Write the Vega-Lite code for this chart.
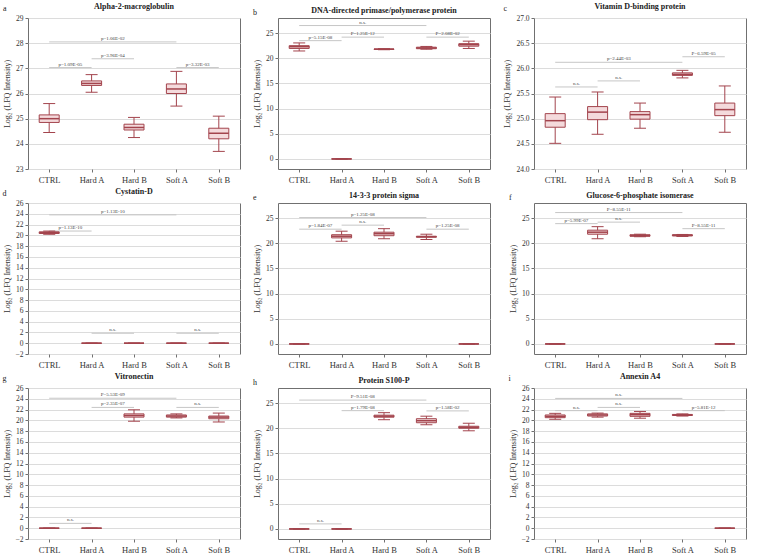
{
"$schema":"https://vega.github.io/schema/vega-lite/v6.json",
"padding":{"left":2,"right":2,"top":2,"bottom":1},
"columns":3,
"spacing":{"row":3,"column":12},
"datasets":{
"boxes":[
{"panel":"a","group":"CTRL","min":24.45,"q1":24.85,"median":25.0,"q3":25.15,"max":25.6},
{"panel":"a","group":"Hard A","min":26.05,"q1":26.32,"median":26.4,"q3":26.5,"max":26.75},
{"panel":"a","group":"Hard B","min":24.25,"q1":24.55,"median":24.65,"q3":24.78,"max":25.05},
{"panel":"a","group":"Soft A","min":25.5,"q1":26.0,"median":26.18,"q3":26.38,"max":26.88},
{"panel":"a","group":"Soft B","min":23.7,"q1":24.2,"median":24.42,"q3":24.62,"max":25.1},
{"panel":"b","group":"CTRL","min":21.45,"q1":21.95,"median":22.3,"q3":22.5,"max":23.05},
{"panel":"b","group":"Hard A","min":0,"q1":0,"median":0,"q3":0,"max":0},
{"panel":"b","group":"Hard B","min":21.7,"q1":21.75,"median":21.8,"q3":21.85,"max":21.9},
{"panel":"b","group":"Soft A","min":21.8,"q1":21.9,"median":22.05,"q3":22.2,"max":22.35},
{"panel":"b","group":"Soft B","min":21.95,"q1":22.4,"median":22.7,"q3":22.9,"max":23.4},
{"panel":"c","group":"CTRL","min":24.51,"q1":24.83,"median":24.96,"q3":25.1,"max":25.43},
{"panel":"c","group":"Hard A","min":24.69,"q1":24.98,"median":25.13,"q3":25.24,"max":25.53},
{"panel":"c","group":"Hard B","min":24.81,"q1":24.99,"median":25.08,"q3":25.14,"max":25.31},
{"panel":"c","group":"Soft A","min":25.81,"q1":25.86,"median":25.88,"q3":25.91,"max":25.96},
{"panel":"c","group":"Soft B","min":24.73,"q1":25.06,"median":25.18,"q3":25.31,"max":25.65},
{"panel":"d","group":"CTRL","min":20.2,"q1":20.35,"median":20.5,"q3":20.65,"max":20.8},
{"panel":"d","group":"Hard A","min":0,"q1":0,"median":0,"q3":0,"max":0},
{"panel":"d","group":"Hard B","min":0,"q1":0,"median":0,"q3":0,"max":0},
{"panel":"d","group":"Soft A","min":0,"q1":0,"median":0,"q3":0,"max":0},
{"panel":"d","group":"Soft B","min":0,"q1":0,"median":0,"q3":0,"max":0},
{"panel":"e","group":"CTRL","min":0,"q1":0,"median":0,"q3":0,"max":0},
{"panel":"e","group":"Hard A","min":20.4,"q1":21.07,"median":21.4,"q3":21.7,"max":22.4},
{"panel":"e","group":"Hard B","min":20.9,"q1":21.5,"median":21.9,"q3":22.2,"max":22.9},
{"panel":"e","group":"Soft A","min":20.75,"q1":21.2,"median":21.3,"q3":21.4,"max":21.8},
{"panel":"e","group":"Soft B","min":0,"q1":0,"median":0,"q3":0,"max":0},
{"panel":"f","group":"CTRL","min":0,"q1":0,"median":0,"q3":0,"max":0},
{"panel":"f","group":"Hard A","min":20.9,"q1":21.8,"median":22.2,"q3":22.6,"max":23.3},
{"panel":"f","group":"Hard B","min":21.3,"q1":21.4,"median":21.5,"q3":21.7,"max":21.8},
{"panel":"f","group":"Soft A","min":21.35,"q1":21.45,"median":21.6,"q3":21.7,"max":21.75},
{"panel":"f","group":"Soft B","min":0,"q1":0,"median":0,"q3":0,"max":0},
{"panel":"g","group":"CTRL","min":0,"q1":0,"median":0,"q3":0,"max":0},
{"panel":"g","group":"Hard A","min":0,"q1":0,"median":0,"q3":0,"max":0},
{"panel":"g","group":"Hard B","min":19.84,"q1":20.6,"median":20.9,"q3":21.2,"max":21.96},
{"panel":"g","group":"Soft A","min":20.45,"q1":20.6,"median":20.8,"q3":21.0,"max":21.2},
{"panel":"g","group":"Soft B","min":19.7,"q1":20.3,"median":20.6,"q3":20.8,"max":21.35},
{"panel":"h","group":"CTRL","min":0,"q1":0,"median":0,"q3":0,"max":0},
{"panel":"h","group":"Hard A","min":0,"q1":0,"median":0,"q3":0,"max":0},
{"panel":"h","group":"Hard B","min":21.7,"q1":22.2,"median":22.4,"q3":22.6,"max":23.1},
{"panel":"h","group":"Soft A","min":20.7,"q1":21.1,"median":21.5,"q3":21.9,"max":22.4},
{"panel":"h","group":"Soft B","min":19.5,"q1":20.0,"median":20.2,"q3":20.4,"max":21.0},
{"panel":"i","group":"CTRL","min":20.2,"q1":20.5,"median":20.75,"q3":21.0,"max":21.3},
{"panel":"i","group":"Hard A","min":20.6,"q1":20.8,"median":21.0,"q3":21.2,"max":21.35},
{"panel":"i","group":"Hard B","min":20.4,"q1":20.75,"median":21.05,"q3":21.3,"max":21.65},
{"panel":"i","group":"Soft A","min":20.8,"q1":20.9,"median":21.0,"q3":21.1,"max":21.2},
{"panel":"i","group":"Soft B","min":0,"q1":0,"median":0,"q3":0,"max":0}
],
"sigs":[
{"panel":"a","g1":"CTRL","g2":"Soft A","y":28.05,"label":"p=1.06E-02"},
{"panel":"a","g1":"Hard A","g2":"Hard B","y":27.38,"label":"p=3.96E-04"},
{"panel":"a","g1":"CTRL","g2":"Hard A","y":27.03,"label":"p=1.09E-05"},
{"panel":"a","g1":"Soft A","g2":"Soft B","y":27.03,"label":"p=3.32E-03"},
{"panel":"b","g1":"CTRL","g2":"Soft A","y":26.5,"label":"n.s."},
{"panel":"b","g1":"CTRL","g2":"Hard A","y":23.5,"label":"p=5.15E-08"},
{"panel":"b","g1":"Hard A","g2":"Hard B","y":24.2,"label":"P=1.25E-12"},
{"panel":"b","g1":"Soft A","g2":"Soft B","y":24.2,"label":"P=2.08E-02"},
{"panel":"c","g1":"CTRL","g2":"Soft A","y":26.12,"label":"p=2.44E-03"},
{"panel":"c","g1":"Soft A","g2":"Soft B","y":26.23,"label":"P=6.59E-05"},
{"panel":"c","g1":"CTRL","g2":"Hard A","y":25.63,"label":"n.s."},
{"panel":"c","g1":"Hard A","g2":"Hard B","y":25.75,"label":"n.s."},
{"panel":"d","g1":"CTRL","g2":"Soft A","y":23.8,"label":"p=1.13E-10"},
{"panel":"d","g1":"CTRL","g2":"Hard A","y":20.8,"label":"p=1.13E-10"},
{"panel":"d","g1":"Hard A","g2":"Hard B","y":1.85,"label":"n.s."},
{"panel":"d","g1":"Soft A","g2":"Soft B","y":1.85,"label":"n.s."},
{"panel":"e","g1":"CTRL","g2":"Soft A","y":25.1,"label":"p=1.25E-08"},
{"panel":"e","g1":"CTRL","g2":"Hard A","y":22.8,"label":"p=1.84E-07"},
{"panel":"e","g1":"Hard A","g2":"Hard B","y":23.6,"label":"n.s."},
{"panel":"e","g1":"Soft A","g2":"Soft B","y":22.8,"label":"p=1.25E-08"},
{"panel":"f","g1":"CTRL","g2":"Soft A","y":26.1,"label":"P=8.55E-11"},
{"panel":"f","g1":"CTRL","g2":"Hard A","y":23.9,"label":"p=5.99E-07"},
{"panel":"f","g1":"Hard A","g2":"Hard B","y":24.2,"label":"n.s."},
{"panel":"f","g1":"Soft A","g2":"Soft B","y":22.9,"label":"P=8.55E-11"},
{"panel":"g","g1":"CTRL","g2":"Soft A","y":24.1,"label":"P=5.53E-09"},
{"panel":"g","g1":"Hard A","g2":"Hard B","y":22.4,"label":"p=2.35E-07"},
{"panel":"g","g1":"Soft A","g2":"Soft B","y":22.4,"label":"n.s."},
{"panel":"g","g1":"CTRL","g2":"Hard A","y":0.9,"label":"n.s."},
{"panel":"h","g1":"CTRL","g2":"Soft A","y":25.6,"label":"P=9.51E-08"},
{"panel":"h","g1":"Hard A","g2":"Hard B","y":23.5,"label":"p=1.79E-08"},
{"panel":"h","g1":"Soft A","g2":"Soft B","y":23.45,"label":"p=1.58E-02"},
{"panel":"h","g1":"CTRL","g2":"Hard A","y":1.0,"label":"n.s."},
{"panel":"i","g1":"CTRL","g2":"Soft A","y":24.07,"label":"n.s."},
{"panel":"i","g1":"CTRL","g2":"Hard A","y":21.8,"label":"n.s."},
{"panel":"i","g1":"Hard A","g2":"Hard B","y":22.4,"label":"n.s."},
{"panel":"i","g1":"Soft A","g2":"Soft B","y":21.8,"label":"p=5.81E-12"}
]
},
"concat":[
{"title":{"text":"a","anchor":"start","frame":"bounds","offset":-10,"fontSize":8,"fontWeight":"normal"},
"vconcat":[{"title":"Alpha-2-macroglobulin","width":212,"height":151,
"layer":[
{"layer":[
{"data":{"name":"sigs"},"transform":[{"filter":"datum.panel=='a'"}],"mark":{"type":"rule","color":"#c6c6c6"},"encoding":{"x":{"field":"g1","type":"nominal","scale":{"type":"point","domain":["CTRL","Hard A","Hard B","Soft A","Soft B"],"padding":0.5},"axis":{"title":null,"labelAngle":0}},"x2":{"field":"g2"},"y":{"field":"y","type":"quantitative","scale":{"domain":[23,29],"nice":false,"zero":false},"axis":{"title":"Log₂ (LFQ Intensity)","values":[23,24,25,26,27,28,29],"tickCount":7}}}},
{"data":{"name":"boxes"},"transform":[{"filter":"datum.panel=='a'"}],"mark":{"type":"rule","color":"#a3444d"},"encoding":{"x":{"field":"group","type":"nominal"},"y":{"field":"min","type":"quantitative","axis":{"title":"Log₂ (LFQ Intensity)","values":[23,24,25,26,27,28,29],"tickCount":7}},"y2":{"field":"max"}}},
{"data":{"name":"boxes"},"transform":[{"filter":"datum.panel=='a'"}],"mark":{"type":"bar","size":20,"fill":"#f4dadc","stroke":"#a3444d","strokeWidth":1},"encoding":{"x":{"field":"group","type":"nominal"},"y":{"field":"q1","type":"quantitative","axis":{"title":"Log₂ (LFQ Intensity)","values":[23,24,25,26,27,28,29],"tickCount":7}},"y2":{"field":"q3"}}},
{"data":{"name":"boxes"},"transform":[{"filter":"datum.panel=='a'"}],"mark":{"type":"tick","size":20,"thickness":1.5,"color":"#a3444d","opacity":1},"encoding":{"x":{"field":"group","type":"nominal"},"y":{"field":"median","type":"quantitative","axis":{"title":"Log₂ (LFQ Intensity)","values":[23,24,25,26,27,28,29],"tickCount":7}}}},
{"data":{"name":"boxes"},"transform":[{"filter":"datum.panel=='a'"}],"mark":{"type":"tick","size":12,"thickness":1,"color":"#a3444d","opacity":1},"encoding":{"x":{"field":"group","type":"nominal"},"y":{"field":"min","type":"quantitative","axis":{"title":"Log₂ (LFQ Intensity)","values":[23,24,25,26,27,28,29],"tickCount":7}}}},
{"data":{"name":"boxes"},"transform":[{"filter":"datum.panel=='a'"}],"mark":{"type":"tick","size":12,"thickness":1,"color":"#a3444d","opacity":1},"encoding":{"x":{"field":"group","type":"nominal"},"y":{"field":"max","type":"quantitative","axis":{"title":"Log₂ (LFQ Intensity)","values":[23,24,25,26,27,28,29],"tickCount":7}}}}
]},
{"data":{"name":"sigs"},"transform":[{"filter":"datum.panel=='a'"},{"calculate":"(indexof(['CTRL','Hard A','Hard B','Soft A','Soft B'],datum.g1)+indexof(['CTRL','Hard A','Hard B','Soft A','Soft B'],datum.g2))/2","as":"mid"}],"mark":{"type":"text","fontSize":5,"baseline":"bottom","dy":-1,"color":"#444"},"encoding":{"x":{"field":"mid","type":"quantitative","scale":{"domain":[-0.5,4.5],"nice":false,"zero":false},"axis":null},"y":{"field":"y","type":"quantitative","axis":{"title":"Log₂ (LFQ Intensity)","values":[23,24,25,26,27,28,29],"tickCount":7}},"text":{"field":"label"}}}
],
"resolve":{"scale":{"x":"independent"}}}]},

{"title":{"text":"b","anchor":"start","frame":"bounds","offset":-10,"fontSize":8,"fontWeight":"normal"},
"vconcat":[{"title":"DNA-directed primase/polymerase protein","width":212,"height":151,
"layer":[
{"layer":[
{"data":{"name":"sigs"},"transform":[{"filter":"datum.panel=='b'"}],"mark":{"type":"rule","color":"#c6c6c6"},"encoding":{"x":{"field":"g1","type":"nominal","scale":{"type":"point","domain":["CTRL","Hard A","Hard B","Soft A","Soft B"],"padding":0.5},"axis":{"title":null,"labelAngle":0}},"x2":{"field":"g2"},"y":{"field":"y","type":"quantitative","scale":{"domain":[-2,28],"nice":false,"zero":false},"axis":{"title":"Log₂ (LFQ Intensity)","values":[0,5,10,15,20,25],"tickCount":6}}}},
{"data":{"name":"boxes"},"transform":[{"filter":"datum.panel=='b'"}],"mark":{"type":"rule","color":"#a3444d"},"encoding":{"x":{"field":"group","type":"nominal"},"y":{"field":"min","type":"quantitative","axis":{"title":"Log₂ (LFQ Intensity)","values":[0,5,10,15,20,25],"tickCount":6}},"y2":{"field":"max"}}},
{"data":{"name":"boxes"},"transform":[{"filter":"datum.panel=='b'"}],"mark":{"type":"bar","size":20,"fill":"#f4dadc","stroke":"#a3444d","strokeWidth":1},"encoding":{"x":{"field":"group","type":"nominal"},"y":{"field":"q1","type":"quantitative","axis":{"title":"Log₂ (LFQ Intensity)","values":[0,5,10,15,20,25],"tickCount":6}},"y2":{"field":"q3"}}},
{"data":{"name":"boxes"},"transform":[{"filter":"datum.panel=='b'"}],"mark":{"type":"tick","size":20,"thickness":1.5,"color":"#a3444d","opacity":1},"encoding":{"x":{"field":"group","type":"nominal"},"y":{"field":"median","type":"quantitative","axis":{"title":"Log₂ (LFQ Intensity)","values":[0,5,10,15,20,25],"tickCount":6}}}},
{"data":{"name":"boxes"},"transform":[{"filter":"datum.panel=='b'"}],"mark":{"type":"tick","size":12,"thickness":1,"color":"#a3444d","opacity":1},"encoding":{"x":{"field":"group","type":"nominal"},"y":{"field":"min","type":"quantitative","axis":{"title":"Log₂ (LFQ Intensity)","values":[0,5,10,15,20,25],"tickCount":6}}}},
{"data":{"name":"boxes"},"transform":[{"filter":"datum.panel=='b'"}],"mark":{"type":"tick","size":12,"thickness":1,"color":"#a3444d","opacity":1},"encoding":{"x":{"field":"group","type":"nominal"},"y":{"field":"max","type":"quantitative","axis":{"title":"Log₂ (LFQ Intensity)","values":[0,5,10,15,20,25],"tickCount":6}}}}
]},
{"data":{"name":"sigs"},"transform":[{"filter":"datum.panel=='b'"},{"calculate":"(indexof(['CTRL','Hard A','Hard B','Soft A','Soft B'],datum.g1)+indexof(['CTRL','Hard A','Hard B','Soft A','Soft B'],datum.g2))/2","as":"mid"}],"mark":{"type":"text","fontSize":5,"baseline":"bottom","dy":-1,"color":"#444"},"encoding":{"x":{"field":"mid","type":"quantitative","scale":{"domain":[-0.5,4.5],"nice":false,"zero":false},"axis":null},"y":{"field":"y","type":"quantitative","axis":{"title":"Log₂ (LFQ Intensity)","values":[0,5,10,15,20,25],"tickCount":6}},"text":{"field":"label"}}}
],
"resolve":{"scale":{"x":"independent"}}}]},

{"title":{"text":"c","anchor":"start","frame":"bounds","offset":-10,"fontSize":8,"fontWeight":"normal"},
"vconcat":[{"title":"Vitamin D-binding protein","width":212,"height":151,
"layer":[
{"layer":[
{"data":{"name":"sigs"},"transform":[{"filter":"datum.panel=='c'"}],"mark":{"type":"rule","color":"#c6c6c6"},"encoding":{"x":{"field":"g1","type":"nominal","scale":{"type":"point","domain":["CTRL","Hard A","Hard B","Soft A","Soft B"],"padding":0.5},"axis":{"title":null,"labelAngle":0}},"x2":{"field":"g2"},"y":{"field":"y","type":"quantitative","scale":{"domain":[24,27],"nice":false,"zero":false},"axis":{"title":"Log₂ (LFQ Intensity)","values":[24,24.5,25,25.5,26,26.5,27],"tickCount":7,"format":".1f"}}}},
{"data":{"name":"boxes"},"transform":[{"filter":"datum.panel=='c'"}],"mark":{"type":"rule","color":"#a3444d"},"encoding":{"x":{"field":"group","type":"nominal"},"y":{"field":"min","type":"quantitative","axis":{"title":"Log₂ (LFQ Intensity)","values":[24,24.5,25,25.5,26,26.5,27],"tickCount":7,"format":".1f"}},"y2":{"field":"max"}}},
{"data":{"name":"boxes"},"transform":[{"filter":"datum.panel=='c'"}],"mark":{"type":"bar","size":20,"fill":"#f4dadc","stroke":"#a3444d","strokeWidth":1},"encoding":{"x":{"field":"group","type":"nominal"},"y":{"field":"q1","type":"quantitative","axis":{"title":"Log₂ (LFQ Intensity)","values":[24,24.5,25,25.5,26,26.5,27],"tickCount":7,"format":".1f"}},"y2":{"field":"q3"}}},
{"data":{"name":"boxes"},"transform":[{"filter":"datum.panel=='c'"}],"mark":{"type":"tick","size":20,"thickness":1.5,"color":"#a3444d","opacity":1},"encoding":{"x":{"field":"group","type":"nominal"},"y":{"field":"median","type":"quantitative","axis":{"title":"Log₂ (LFQ Intensity)","values":[24,24.5,25,25.5,26,26.5,27],"tickCount":7,"format":".1f"}}}},
{"data":{"name":"boxes"},"transform":[{"filter":"datum.panel=='c'"}],"mark":{"type":"tick","size":12,"thickness":1,"color":"#a3444d","opacity":1},"encoding":{"x":{"field":"group","type":"nominal"},"y":{"field":"min","type":"quantitative","axis":{"title":"Log₂ (LFQ Intensity)","values":[24,24.5,25,25.5,26,26.5,27],"tickCount":7,"format":".1f"}}}},
{"data":{"name":"boxes"},"transform":[{"filter":"datum.panel=='c'"}],"mark":{"type":"tick","size":12,"thickness":1,"color":"#a3444d","opacity":1},"encoding":{"x":{"field":"group","type":"nominal"},"y":{"field":"max","type":"quantitative","axis":{"title":"Log₂ (LFQ Intensity)","values":[24,24.5,25,25.5,26,26.5,27],"tickCount":7,"format":".1f"}}}}
]},
{"data":{"name":"sigs"},"transform":[{"filter":"datum.panel=='c'"},{"calculate":"(indexof(['CTRL','Hard A','Hard B','Soft A','Soft B'],datum.g1)+indexof(['CTRL','Hard A','Hard B','Soft A','Soft B'],datum.g2))/2","as":"mid"}],"mark":{"type":"text","fontSize":5,"baseline":"bottom","dy":-1,"color":"#444"},"encoding":{"x":{"field":"mid","type":"quantitative","scale":{"domain":[-0.5,4.5],"nice":false,"zero":false},"axis":null},"y":{"field":"y","type":"quantitative","axis":{"title":"Log₂ (LFQ Intensity)","values":[24,24.5,25,25.5,26,26.5,27],"tickCount":7,"format":".1f"}},"text":{"field":"label"}}}
],
"resolve":{"scale":{"x":"independent"}}}]},

{"title":{"text":"d","anchor":"start","frame":"bounds","offset":-10,"fontSize":8,"fontWeight":"normal"},
"vconcat":[{"title":"Cystatin-D","width":212,"height":151,
"layer":[
{"layer":[
{"data":{"name":"sigs"},"transform":[{"filter":"datum.panel=='d'"}],"mark":{"type":"rule","color":"#c6c6c6"},"encoding":{"x":{"field":"g1","type":"nominal","scale":{"type":"point","domain":["CTRL","Hard A","Hard B","Soft A","Soft B"],"padding":0.5},"axis":{"title":null,"labelAngle":0}},"x2":{"field":"g2"},"y":{"field":"y","type":"quantitative","scale":{"domain":[-2,26],"nice":false,"zero":false},"axis":{"title":"Log₂ (LFQ Intensity)","values":[-2,0,2,4,6,8,10,12,14,16,18,20,22,24,26],"tickCount":15}}}},
{"data":{"name":"boxes"},"transform":[{"filter":"datum.panel=='d'"}],"mark":{"type":"rule","color":"#a3444d"},"encoding":{"x":{"field":"group","type":"nominal"},"y":{"field":"min","type":"quantitative","axis":{"title":"Log₂ (LFQ Intensity)","values":[-2,0,2,4,6,8,10,12,14,16,18,20,22,24,26],"tickCount":15}},"y2":{"field":"max"}}},
{"data":{"name":"boxes"},"transform":[{"filter":"datum.panel=='d'"}],"mark":{"type":"bar","size":20,"fill":"#f4dadc","stroke":"#a3444d","strokeWidth":1},"encoding":{"x":{"field":"group","type":"nominal"},"y":{"field":"q1","type":"quantitative","axis":{"title":"Log₂ (LFQ Intensity)","values":[-2,0,2,4,6,8,10,12,14,16,18,20,22,24,26],"tickCount":15}},"y2":{"field":"q3"}}},
{"data":{"name":"boxes"},"transform":[{"filter":"datum.panel=='d'"}],"mark":{"type":"tick","size":20,"thickness":1.5,"color":"#a3444d","opacity":1},"encoding":{"x":{"field":"group","type":"nominal"},"y":{"field":"median","type":"quantitative","axis":{"title":"Log₂ (LFQ Intensity)","values":[-2,0,2,4,6,8,10,12,14,16,18,20,22,24,26],"tickCount":15}}}},
{"data":{"name":"boxes"},"transform":[{"filter":"datum.panel=='d'"}],"mark":{"type":"tick","size":12,"thickness":1,"color":"#a3444d","opacity":1},"encoding":{"x":{"field":"group","type":"nominal"},"y":{"field":"min","type":"quantitative","axis":{"title":"Log₂ (LFQ Intensity)","values":[-2,0,2,4,6,8,10,12,14,16,18,20,22,24,26],"tickCount":15}}}},
{"data":{"name":"boxes"},"transform":[{"filter":"datum.panel=='d'"}],"mark":{"type":"tick","size":12,"thickness":1,"color":"#a3444d","opacity":1},"encoding":{"x":{"field":"group","type":"nominal"},"y":{"field":"max","type":"quantitative","axis":{"title":"Log₂ (LFQ Intensity)","values":[-2,0,2,4,6,8,10,12,14,16,18,20,22,24,26],"tickCount":15}}}}
]},
{"data":{"name":"sigs"},"transform":[{"filter":"datum.panel=='d'"},{"calculate":"(indexof(['CTRL','Hard A','Hard B','Soft A','Soft B'],datum.g1)+indexof(['CTRL','Hard A','Hard B','Soft A','Soft B'],datum.g2))/2","as":"mid"}],"mark":{"type":"text","fontSize":5,"baseline":"bottom","dy":-1,"color":"#444"},"encoding":{"x":{"field":"mid","type":"quantitative","scale":{"domain":[-0.5,4.5],"nice":false,"zero":false},"axis":null},"y":{"field":"y","type":"quantitative","axis":{"title":"Log₂ (LFQ Intensity)","values":[-2,0,2,4,6,8,10,12,14,16,18,20,22,24,26],"tickCount":15}},"text":{"field":"label"}}}
],
"resolve":{"scale":{"x":"independent"}}}]},

{"title":{"text":"e","anchor":"start","frame":"bounds","offset":-10,"fontSize":8,"fontWeight":"normal"},
"vconcat":[{"title":"14-3-3 protein sigma","width":212,"height":151,
"layer":[
{"layer":[
{"data":{"name":"sigs"},"transform":[{"filter":"datum.panel=='e'"}],"mark":{"type":"rule","color":"#c6c6c6"},"encoding":{"x":{"field":"g1","type":"nominal","scale":{"type":"point","domain":["CTRL","Hard A","Hard B","Soft A","Soft B"],"padding":0.5},"axis":{"title":null,"labelAngle":0}},"x2":{"field":"g2"},"y":{"field":"y","type":"quantitative","scale":{"domain":[-2,28],"nice":false,"zero":false},"axis":{"title":"Log₂ (LFQ Intensity)","values":[0,5,10,15,20,25],"tickCount":6}}}},
{"data":{"name":"boxes"},"transform":[{"filter":"datum.panel=='e'"}],"mark":{"type":"rule","color":"#a3444d"},"encoding":{"x":{"field":"group","type":"nominal"},"y":{"field":"min","type":"quantitative","axis":{"title":"Log₂ (LFQ Intensity)","values":[0,5,10,15,20,25],"tickCount":6}},"y2":{"field":"max"}}},
{"data":{"name":"boxes"},"transform":[{"filter":"datum.panel=='e'"}],"mark":{"type":"bar","size":20,"fill":"#f4dadc","stroke":"#a3444d","strokeWidth":1},"encoding":{"x":{"field":"group","type":"nominal"},"y":{"field":"q1","type":"quantitative","axis":{"title":"Log₂ (LFQ Intensity)","values":[0,5,10,15,20,25],"tickCount":6}},"y2":{"field":"q3"}}},
{"data":{"name":"boxes"},"transform":[{"filter":"datum.panel=='e'"}],"mark":{"type":"tick","size":20,"thickness":1.5,"color":"#a3444d","opacity":1},"encoding":{"x":{"field":"group","type":"nominal"},"y":{"field":"median","type":"quantitative","axis":{"title":"Log₂ (LFQ Intensity)","values":[0,5,10,15,20,25],"tickCount":6}}}},
{"data":{"name":"boxes"},"transform":[{"filter":"datum.panel=='e'"}],"mark":{"type":"tick","size":12,"thickness":1,"color":"#a3444d","opacity":1},"encoding":{"x":{"field":"group","type":"nominal"},"y":{"field":"min","type":"quantitative","axis":{"title":"Log₂ (LFQ Intensity)","values":[0,5,10,15,20,25],"tickCount":6}}}},
{"data":{"name":"boxes"},"transform":[{"filter":"datum.panel=='e'"}],"mark":{"type":"tick","size":12,"thickness":1,"color":"#a3444d","opacity":1},"encoding":{"x":{"field":"group","type":"nominal"},"y":{"field":"max","type":"quantitative","axis":{"title":"Log₂ (LFQ Intensity)","values":[0,5,10,15,20,25],"tickCount":6}}}}
]},
{"data":{"name":"sigs"},"transform":[{"filter":"datum.panel=='e'"},{"calculate":"(indexof(['CTRL','Hard A','Hard B','Soft A','Soft B'],datum.g1)+indexof(['CTRL','Hard A','Hard B','Soft A','Soft B'],datum.g2))/2","as":"mid"}],"mark":{"type":"text","fontSize":5,"baseline":"bottom","dy":-1,"color":"#444"},"encoding":{"x":{"field":"mid","type":"quantitative","scale":{"domain":[-0.5,4.5],"nice":false,"zero":false},"axis":null},"y":{"field":"y","type":"quantitative","axis":{"title":"Log₂ (LFQ Intensity)","values":[0,5,10,15,20,25],"tickCount":6}},"text":{"field":"label"}}}
],
"resolve":{"scale":{"x":"independent"}}}]},

{"title":{"text":"f","anchor":"start","frame":"bounds","offset":-10,"fontSize":8,"fontWeight":"normal"},
"vconcat":[{"title":"Glucose-6-phosphate isomerase","width":212,"height":151,
"layer":[
{"layer":[
{"data":{"name":"sigs"},"transform":[{"filter":"datum.panel=='f'"}],"mark":{"type":"rule","color":"#c6c6c6"},"encoding":{"x":{"field":"g1","type":"nominal","scale":{"type":"point","domain":["CTRL","Hard A","Hard B","Soft A","Soft B"],"padding":0.5},"axis":{"title":null,"labelAngle":0}},"x2":{"field":"g2"},"y":{"field":"y","type":"quantitative","scale":{"domain":[-2,28],"nice":false,"zero":false},"axis":{"title":"Log₂ (LFQ Intensity)","values":[0,5,10,15,20,25],"tickCount":6}}}},
{"data":{"name":"boxes"},"transform":[{"filter":"datum.panel=='f'"}],"mark":{"type":"rule","color":"#a3444d"},"encoding":{"x":{"field":"group","type":"nominal"},"y":{"field":"min","type":"quantitative","axis":{"title":"Log₂ (LFQ Intensity)","values":[0,5,10,15,20,25],"tickCount":6}},"y2":{"field":"max"}}},
{"data":{"name":"boxes"},"transform":[{"filter":"datum.panel=='f'"}],"mark":{"type":"bar","size":20,"fill":"#f4dadc","stroke":"#a3444d","strokeWidth":1},"encoding":{"x":{"field":"group","type":"nominal"},"y":{"field":"q1","type":"quantitative","axis":{"title":"Log₂ (LFQ Intensity)","values":[0,5,10,15,20,25],"tickCount":6}},"y2":{"field":"q3"}}},
{"data":{"name":"boxes"},"transform":[{"filter":"datum.panel=='f'"}],"mark":{"type":"tick","size":20,"thickness":1.5,"color":"#a3444d","opacity":1},"encoding":{"x":{"field":"group","type":"nominal"},"y":{"field":"median","type":"quantitative","axis":{"title":"Log₂ (LFQ Intensity)","values":[0,5,10,15,20,25],"tickCount":6}}}},
{"data":{"name":"boxes"},"transform":[{"filter":"datum.panel=='f'"}],"mark":{"type":"tick","size":12,"thickness":1,"color":"#a3444d","opacity":1},"encoding":{"x":{"field":"group","type":"nominal"},"y":{"field":"min","type":"quantitative","axis":{"title":"Log₂ (LFQ Intensity)","values":[0,5,10,15,20,25],"tickCount":6}}}},
{"data":{"name":"boxes"},"transform":[{"filter":"datum.panel=='f'"}],"mark":{"type":"tick","size":12,"thickness":1,"color":"#a3444d","opacity":1},"encoding":{"x":{"field":"group","type":"nominal"},"y":{"field":"max","type":"quantitative","axis":{"title":"Log₂ (LFQ Intensity)","values":[0,5,10,15,20,25],"tickCount":6}}}}
]},
{"data":{"name":"sigs"},"transform":[{"filter":"datum.panel=='f'"},{"calculate":"(indexof(['CTRL','Hard A','Hard B','Soft A','Soft B'],datum.g1)+indexof(['CTRL','Hard A','Hard B','Soft A','Soft B'],datum.g2))/2","as":"mid"}],"mark":{"type":"text","fontSize":5,"baseline":"bottom","dy":-1,"color":"#444"},"encoding":{"x":{"field":"mid","type":"quantitative","scale":{"domain":[-0.5,4.5],"nice":false,"zero":false},"axis":null},"y":{"field":"y","type":"quantitative","axis":{"title":"Log₂ (LFQ Intensity)","values":[0,5,10,15,20,25],"tickCount":6}},"text":{"field":"label"}}}
],
"resolve":{"scale":{"x":"independent"}}}]},

{"title":{"text":"g","anchor":"start","frame":"bounds","offset":-10,"fontSize":8,"fontWeight":"normal"},
"vconcat":[{"title":"Vitronectin","width":212,"height":151,
"layer":[
{"layer":[
{"data":{"name":"sigs"},"transform":[{"filter":"datum.panel=='g'"}],"mark":{"type":"rule","color":"#c6c6c6"},"encoding":{"x":{"field":"g1","type":"nominal","scale":{"type":"point","domain":["CTRL","Hard A","Hard B","Soft A","Soft B"],"padding":0.5},"axis":{"title":null,"labelAngle":0}},"x2":{"field":"g2"},"y":{"field":"y","type":"quantitative","scale":{"domain":[-2,26],"nice":false,"zero":false},"axis":{"title":"Log₂ (LFQ Intensity)","values":[-2,0,2,4,6,8,10,12,14,16,18,20,22,24,26],"tickCount":15}}}},
{"data":{"name":"boxes"},"transform":[{"filter":"datum.panel=='g'"}],"mark":{"type":"rule","color":"#a3444d"},"encoding":{"x":{"field":"group","type":"nominal"},"y":{"field":"min","type":"quantitative","axis":{"title":"Log₂ (LFQ Intensity)","values":[-2,0,2,4,6,8,10,12,14,16,18,20,22,24,26],"tickCount":15}},"y2":{"field":"max"}}},
{"data":{"name":"boxes"},"transform":[{"filter":"datum.panel=='g'"}],"mark":{"type":"bar","size":20,"fill":"#f4dadc","stroke":"#a3444d","strokeWidth":1},"encoding":{"x":{"field":"group","type":"nominal"},"y":{"field":"q1","type":"quantitative","axis":{"title":"Log₂ (LFQ Intensity)","values":[-2,0,2,4,6,8,10,12,14,16,18,20,22,24,26],"tickCount":15}},"y2":{"field":"q3"}}},
{"data":{"name":"boxes"},"transform":[{"filter":"datum.panel=='g'"}],"mark":{"type":"tick","size":20,"thickness":1.5,"color":"#a3444d","opacity":1},"encoding":{"x":{"field":"group","type":"nominal"},"y":{"field":"median","type":"quantitative","axis":{"title":"Log₂ (LFQ Intensity)","values":[-2,0,2,4,6,8,10,12,14,16,18,20,22,24,26],"tickCount":15}}}},
{"data":{"name":"boxes"},"transform":[{"filter":"datum.panel=='g'"}],"mark":{"type":"tick","size":12,"thickness":1,"color":"#a3444d","opacity":1},"encoding":{"x":{"field":"group","type":"nominal"},"y":{"field":"min","type":"quantitative","axis":{"title":"Log₂ (LFQ Intensity)","values":[-2,0,2,4,6,8,10,12,14,16,18,20,22,24,26],"tickCount":15}}}},
{"data":{"name":"boxes"},"transform":[{"filter":"datum.panel=='g'"}],"mark":{"type":"tick","size":12,"thickness":1,"color":"#a3444d","opacity":1},"encoding":{"x":{"field":"group","type":"nominal"},"y":{"field":"max","type":"quantitative","axis":{"title":"Log₂ (LFQ Intensity)","values":[-2,0,2,4,6,8,10,12,14,16,18,20,22,24,26],"tickCount":15}}}}
]},
{"data":{"name":"sigs"},"transform":[{"filter":"datum.panel=='g'"},{"calculate":"(indexof(['CTRL','Hard A','Hard B','Soft A','Soft B'],datum.g1)+indexof(['CTRL','Hard A','Hard B','Soft A','Soft B'],datum.g2))/2","as":"mid"}],"mark":{"type":"text","fontSize":5,"baseline":"bottom","dy":-1,"color":"#444"},"encoding":{"x":{"field":"mid","type":"quantitative","scale":{"domain":[-0.5,4.5],"nice":false,"zero":false},"axis":null},"y":{"field":"y","type":"quantitative","axis":{"title":"Log₂ (LFQ Intensity)","values":[-2,0,2,4,6,8,10,12,14,16,18,20,22,24,26],"tickCount":15}},"text":{"field":"label"}}}
],
"resolve":{"scale":{"x":"independent"}}}]},

{"title":{"text":"h","anchor":"start","frame":"bounds","offset":-10,"fontSize":8,"fontWeight":"normal"},
"vconcat":[{"title":"Protein S100-P","width":212,"height":151,
"layer":[
{"layer":[
{"data":{"name":"sigs"},"transform":[{"filter":"datum.panel=='h'"}],"mark":{"type":"rule","color":"#c6c6c6"},"encoding":{"x":{"field":"g1","type":"nominal","scale":{"type":"point","domain":["CTRL","Hard A","Hard B","Soft A","Soft B"],"padding":0.5},"axis":{"title":null,"labelAngle":0}},"x2":{"field":"g2"},"y":{"field":"y","type":"quantitative","scale":{"domain":[-2,28],"nice":false,"zero":false},"axis":{"title":"Log₂ (LFQ Intensity)","values":[0,5,10,15,20,25],"tickCount":6}}}},
{"data":{"name":"boxes"},"transform":[{"filter":"datum.panel=='h'"}],"mark":{"type":"rule","color":"#a3444d"},"encoding":{"x":{"field":"group","type":"nominal"},"y":{"field":"min","type":"quantitative","axis":{"title":"Log₂ (LFQ Intensity)","values":[0,5,10,15,20,25],"tickCount":6}},"y2":{"field":"max"}}},
{"data":{"name":"boxes"},"transform":[{"filter":"datum.panel=='h'"}],"mark":{"type":"bar","size":20,"fill":"#f4dadc","stroke":"#a3444d","strokeWidth":1},"encoding":{"x":{"field":"group","type":"nominal"},"y":{"field":"q1","type":"quantitative","axis":{"title":"Log₂ (LFQ Intensity)","values":[0,5,10,15,20,25],"tickCount":6}},"y2":{"field":"q3"}}},
{"data":{"name":"boxes"},"transform":[{"filter":"datum.panel=='h'"}],"mark":{"type":"tick","size":20,"thickness":1.5,"color":"#a3444d","opacity":1},"encoding":{"x":{"field":"group","type":"nominal"},"y":{"field":"median","type":"quantitative","axis":{"title":"Log₂ (LFQ Intensity)","values":[0,5,10,15,20,25],"tickCount":6}}}},
{"data":{"name":"boxes"},"transform":[{"filter":"datum.panel=='h'"}],"mark":{"type":"tick","size":12,"thickness":1,"color":"#a3444d","opacity":1},"encoding":{"x":{"field":"group","type":"nominal"},"y":{"field":"min","type":"quantitative","axis":{"title":"Log₂ (LFQ Intensity)","values":[0,5,10,15,20,25],"tickCount":6}}}},
{"data":{"name":"boxes"},"transform":[{"filter":"datum.panel=='h'"}],"mark":{"type":"tick","size":12,"thickness":1,"color":"#a3444d","opacity":1},"encoding":{"x":{"field":"group","type":"nominal"},"y":{"field":"max","type":"quantitative","axis":{"title":"Log₂ (LFQ Intensity)","values":[0,5,10,15,20,25],"tickCount":6}}}}
]},
{"data":{"name":"sigs"},"transform":[{"filter":"datum.panel=='h'"},{"calculate":"(indexof(['CTRL','Hard A','Hard B','Soft A','Soft B'],datum.g1)+indexof(['CTRL','Hard A','Hard B','Soft A','Soft B'],datum.g2))/2","as":"mid"}],"mark":{"type":"text","fontSize":5,"baseline":"bottom","dy":-1,"color":"#444"},"encoding":{"x":{"field":"mid","type":"quantitative","scale":{"domain":[-0.5,4.5],"nice":false,"zero":false},"axis":null},"y":{"field":"y","type":"quantitative","axis":{"title":"Log₂ (LFQ Intensity)","values":[0,5,10,15,20,25],"tickCount":6}},"text":{"field":"label"}}}
],
"resolve":{"scale":{"x":"independent"}}}]},

{"title":{"text":"i","anchor":"start","frame":"bounds","offset":-10,"fontSize":8,"fontWeight":"normal"},
"vconcat":[{"title":"Annexin A4","width":212,"height":151,
"layer":[
{"layer":[
{"data":{"name":"sigs"},"transform":[{"filter":"datum.panel=='i'"}],"mark":{"type":"rule","color":"#c6c6c6"},"encoding":{"x":{"field":"g1","type":"nominal","scale":{"type":"point","domain":["CTRL","Hard A","Hard B","Soft A","Soft B"],"padding":0.5},"axis":{"title":null,"labelAngle":0}},"x2":{"field":"g2"},"y":{"field":"y","type":"quantitative","scale":{"domain":[-2,26],"nice":false,"zero":false},"axis":{"title":"Log₂ (LFQ Intensity)","values":[-2,0,2,4,6,8,10,12,14,16,18,20,22,24,26],"tickCount":15}}}},
{"data":{"name":"boxes"},"transform":[{"filter":"datum.panel=='i'"}],"mark":{"type":"rule","color":"#a3444d"},"encoding":{"x":{"field":"group","type":"nominal"},"y":{"field":"min","type":"quantitative","axis":{"title":"Log₂ (LFQ Intensity)","values":[-2,0,2,4,6,8,10,12,14,16,18,20,22,24,26],"tickCount":15}},"y2":{"field":"max"}}},
{"data":{"name":"boxes"},"transform":[{"filter":"datum.panel=='i'"}],"mark":{"type":"bar","size":20,"fill":"#f4dadc","stroke":"#a3444d","strokeWidth":1},"encoding":{"x":{"field":"group","type":"nominal"},"y":{"field":"q1","type":"quantitative","axis":{"title":"Log₂ (LFQ Intensity)","values":[-2,0,2,4,6,8,10,12,14,16,18,20,22,24,26],"tickCount":15}},"y2":{"field":"q3"}}},
{"data":{"name":"boxes"},"transform":[{"filter":"datum.panel=='i'"}],"mark":{"type":"tick","size":20,"thickness":1.5,"color":"#a3444d","opacity":1},"encoding":{"x":{"field":"group","type":"nominal"},"y":{"field":"median","type":"quantitative","axis":{"title":"Log₂ (LFQ Intensity)","values":[-2,0,2,4,6,8,10,12,14,16,18,20,22,24,26],"tickCount":15}}}},
{"data":{"name":"boxes"},"transform":[{"filter":"datum.panel=='i'"}],"mark":{"type":"tick","size":12,"thickness":1,"color":"#a3444d","opacity":1},"encoding":{"x":{"field":"group","type":"nominal"},"y":{"field":"min","type":"quantitative","axis":{"title":"Log₂ (LFQ Intensity)","values":[-2,0,2,4,6,8,10,12,14,16,18,20,22,24,26],"tickCount":15}}}},
{"data":{"name":"boxes"},"transform":[{"filter":"datum.panel=='i'"}],"mark":{"type":"tick","size":12,"thickness":1,"color":"#a3444d","opacity":1},"encoding":{"x":{"field":"group","type":"nominal"},"y":{"field":"max","type":"quantitative","axis":{"title":"Log₂ (LFQ Intensity)","values":[-2,0,2,4,6,8,10,12,14,16,18,20,22,24,26],"tickCount":15}}}}
]},
{"data":{"name":"sigs"},"transform":[{"filter":"datum.panel=='i'"},{"calculate":"(indexof(['CTRL','Hard A','Hard B','Soft A','Soft B'],datum.g1)+indexof(['CTRL','Hard A','Hard B','Soft A','Soft B'],datum.g2))/2","as":"mid"}],"mark":{"type":"text","fontSize":5,"baseline":"bottom","dy":-1,"color":"#444"},"encoding":{"x":{"field":"mid","type":"quantitative","scale":{"domain":[-0.5,4.5],"nice":false,"zero":false},"axis":null},"y":{"field":"y","type":"quantitative","axis":{"title":"Log₂ (LFQ Intensity)","values":[-2,0,2,4,6,8,10,12,14,16,18,20,22,24,26],"tickCount":15}},"text":{"field":"label"}}}
],
"resolve":{"scale":{"x":"independent"}}}]}
],
"config":{
"font":"Liberation Serif",
"view":{"stroke":"#707070","strokeWidth":1},
"axis":{"labelFontSize":8,"titleFontSize":8,"titleFontWeight":"normal","labelColor":"#333","titleColor":"#333","tickColor":"#707070","tickSize":3,"domain":false,"grid":false},
"axisY":{"grid":true,"gridColor":"#dcdcdc","titlePadding":4,"labelOverlap":false,"labelFontSize":7.5,"labelBound":false},
"axisX":{"labelPadding":3,"labelFontSize":8.5},
"title":{"fontSize":8,"fontWeight":"bold","offset":3,"color":"#222"}
}
}
